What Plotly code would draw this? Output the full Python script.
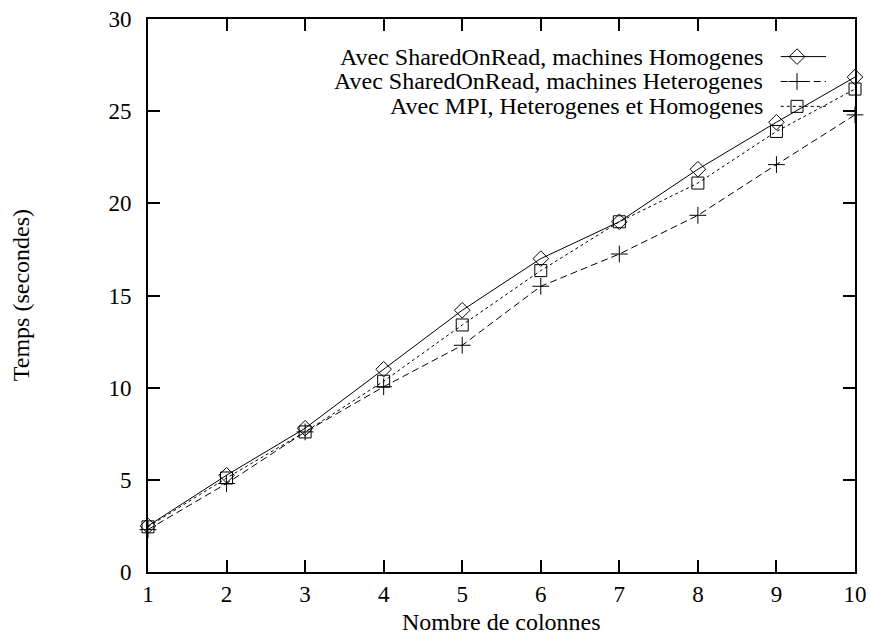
import plotly.graph_objects as go

colonnes = [1, 2, 3, 4, 5, 6, 7, 8, 9, 10]
homogenes = [2.5, 5.25, 7.8, 11.0, 14.2, 17.0, 19.0, 21.85, 24.4, 26.85]
heterogenes = [2.3, 4.8, 7.6, 10.05, 12.3, 15.5, 17.25, 19.35, 22.1, 24.8]
mpi = [2.45, 5.1, 7.6, 10.35, 13.4, 16.35, 19.0, 21.1, 23.9, 26.2]

noms = ["Avec SharedOnRead, machines Homogenes",
        "Avec SharedOnRead, machines Heterogenes",
        "Avec MPI, Heterogenes et Homogenes"]
symboles = ["diamond-open", "cross-thin-open", "square-open"]
tirets = ["solid", "7px,4px", "3px,3px"]
series = [homogenes, heterogenes, mpi]

police = "Liberation Serif"

fig = go.Figure()
for nom, ys, sym, dash in zip(noms, series, symboles, tirets):
    fig.add_trace(go.Scatter(
        x=colonnes, y=ys, name=nom, mode="lines+markers",
        line=dict(color="black", width=1, dash=dash),
        marker=dict(symbol=sym, size=12, color="black",
                    line=dict(color="black", width=1)),
        cliponaxis=False, showlegend=False))

# legende faite a la main (texte a gauche, echantillon a droite)
leg_y = [0.932, 0.887, 0.842]
x_txt, x_l0, x_mk, x_l1 = 0.873, 0.895, 0.918, 0.959
for nom, yy, dash in zip(noms, leg_y, tirets):
    fig.add_annotation(x=x_txt, y=yy, xref="paper", yref="paper", text=nom,
                       showarrow=False, xanchor="right", yanchor="middle",
                       font=dict(family=police, size=24, color="black"))
    fig.add_shape(type="line", xref="paper", yref="paper",
                  x0=x_l0, x1=x_l1, y0=yy, y1=yy,
                  line=dict(color="black", width=1, dash=dash))
fig.add_trace(go.Scatter(
    x=[x_mk] * 3, y=leg_y, mode="markers", xaxis="x2", yaxis="y2",
    marker=dict(symbol=symboles, size=12, color="black",
                line=dict(color="black", width=1)),
    cliponaxis=False, showlegend=False, hoverinfo="skip"))

axe = dict(showgrid=False, zeroline=False, showline=True, linecolor="black",
           linewidth=2, mirror="ticks", ticks="inside", ticklen=12,
           tickwidth=2, tickcolor="black", automargin=False,
           ticklabeloverflow="allow",
           tickfont=dict(family=police, size=23, color="black"))

fig.update_layout(
    width=870, height=636,
    margin=dict(l=148, r=15, t=19, b=64, autoexpand=False),
    paper_bgcolor="white", plot_bgcolor="white",
    font=dict(family=police, size=24, color="black"),
    xaxis=dict(range=[1, 10], tickmode="array", tickvals=colonnes, **axe),
    yaxis=dict(range=[0, 30], tickmode="array", ticklabelstandoff=10,
               tickvals=[0, 5, 10, 15, 20, 25, 30], **axe),
    xaxis2=dict(range=[0, 1], overlaying="x", visible=False),
    yaxis2=dict(range=[0, 1], overlaying="y", visible=False),
    annotations=list(fig.layout.annotations) + [
        dict(text="Nombre de colonnes", x=0.5, y=-0.09, xref="paper",
             yref="paper", showarrow=False, yanchor="middle",
             font=dict(family=police, size=24)),
        dict(text="Temps (secondes)", x=-0.18, y=0.5, xref="paper",
             yref="paper", showarrow=False, textangle=-90, xanchor="center",
             font=dict(family=police, size=24)),
    ],
)

# pas de marge autour de la figure dans la page
fig.write_html("out.html", config={"displayModeBar": False},
               post_script="document.body.style.margin='0px';")
